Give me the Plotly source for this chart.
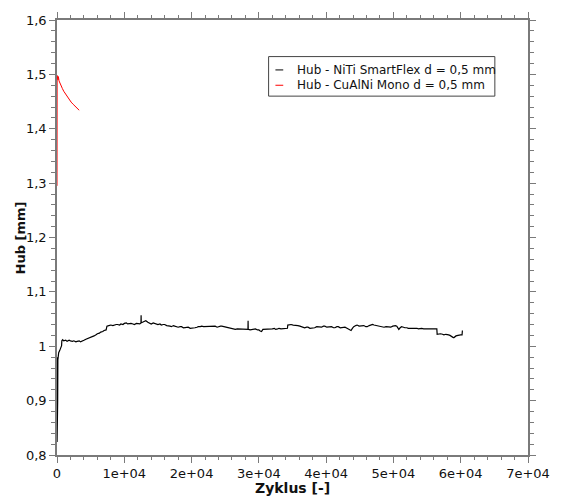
import plotly.graph_objects as go

# Hub (stroke) over cycle count, two wire materials
niti_cycles = [0, 10, 20, 30, 40, 60, 80, 100, 130, 160, 250, 400, 550, 680, 720, 850,
               1000, 1300, 1500, 1800, 2000, 2300, 2500, 2800, 3000, 3300, 3500, 3800,
               4000, 4300, 4500, 4800, 5000, 5300, 5500, 5800, 6000, 6300, 6500, 6800,
               7000, 7300, 7420, 7700, 8000, 8300, 8500, 8800, 9000, 9300, 9500, 9800,
               10000, 10300, 10500, 10800, 11000, 11300, 11500, 11800, 12000, 12300,
               12480, 12500, 12520, 12700, 13000, 13200, 13500, 13800, 14000, 14300,
               14500, 14800, 15000, 15300, 15500, 15800, 16000, 16300, 16500, 16800,
               17000, 17300, 17500, 17800, 18000, 18300, 18500, 18800, 19000, 19300,
               19500, 19800, 20000, 20300, 20500, 20800, 21000, 21300, 21500, 21800,
               22000, 22300, 22500, 22800, 23000, 23300, 23500, 23800, 24000, 24300,
               24500, 24800, 25000, 25300, 25500, 25800, 26000, 26300, 26500, 26800,
               27000, 27300, 27500, 27800, 28000, 28380, 28400, 28420, 28700, 29000,
               29300, 29500, 29800, 30000, 30200, 30400, 30600, 31000, 31300, 31500,
               31800, 32000, 32300, 32500, 32800, 33000, 33300, 33500, 33800, 34000,
               34250, 34300, 34600, 34800, 35100, 35300, 35600, 35800, 36100, 36300,
               36600, 36800, 37100, 37300, 37600, 37800, 38100, 38300, 38600, 38800,
               39100, 39300, 39600, 39800, 40100, 40300, 40600, 40800, 41100, 41300,
               41600, 41800, 42100, 42300, 42600, 42800, 43100, 43300, 43500, 43700,
               43900, 44100, 44400, 44600, 44900, 45100, 45400, 45600, 45900, 46100,
               46400, 46600, 46900, 47100, 47400, 47600, 47900, 48100, 48400, 48600,
               48900, 49100, 49400, 49600, 49900, 50100, 50300, 50500, 50700, 50800,
               51000, 51200, 51500, 51700, 52000, 52200, 52500, 52700, 53000, 53200,
               53500, 53700, 54000, 54200, 54500, 54700, 55000, 55200, 55500, 55700,
               56000, 56300, 56450, 56500, 56800, 57000, 57300, 57500, 57800, 58000,
               58200, 58400, 58600, 58700, 58900, 59000, 59200, 59300, 59600, 59800,
               60000, 60200, 60250]
niti_hub = [0.980, 0.824, 0.970, 0.870, 0.975, 0.880, 0.972, 0.900, 0.975, 0.985, 0.988,
            0.992, 0.996, 1.001, 1.010, 1.012,
            1.010, 1.011, 1.009, 1.011, 1.010, 1.009, 1.010, 1.008, 1.009, 1.010, 1.008, 1.009,
            1.011, 1.013, 1.014, 1.015, 1.016, 1.017, 1.019, 1.021, 1.023, 1.024, 1.026, 1.027,
            1.029, 1.030, 1.037, 1.038, 1.039, 1.038, 1.039, 1.040, 1.040, 1.039, 1.041, 1.040,
            1.042, 1.043, 1.041, 1.042, 1.042, 1.041, 1.040, 1.042, 1.042, 1.041,
            1.043, 1.057, 1.043, 1.044, 1.045, 1.047, 1.044, 1.043, 1.041, 1.043,
            1.042, 1.040, 1.040, 1.041, 1.039, 1.040, 1.040, 1.038, 1.038, 1.037,
            1.036, 1.038, 1.037, 1.035, 1.035, 1.036, 1.036, 1.034, 1.034, 1.035,
            1.035, 1.033, 1.033, 1.034, 1.034, 1.035, 1.036, 1.036, 1.037, 1.036,
            1.036, 1.037, 1.037, 1.036, 1.036, 1.037, 1.037, 1.035, 1.036, 1.037,
            1.037, 1.036, 1.035, 1.035, 1.034, 1.033, 1.032, 1.031, 1.031, 1.032,
            1.032, 1.031, 1.031, 1.032, 1.032, 1.031, 1.047, 1.031, 1.030, 1.031,
            1.032, 1.032, 1.030, 1.030, 1.028, 1.027, 1.031, 1.031, 1.032, 1.032,
            1.031, 1.032, 1.033, 1.031, 1.032, 1.033, 1.032, 1.032, 1.033, 1.033,
            1.033, 1.039, 1.040, 1.040, 1.039, 1.039, 1.038, 1.038, 1.037, 1.036,
            1.035, 1.034, 1.035, 1.035, 1.033, 1.033, 1.034, 1.034, 1.036, 1.036,
            1.035, 1.035, 1.037, 1.037, 1.035, 1.035, 1.036, 1.036, 1.034, 1.034,
            1.036, 1.036, 1.034, 1.034, 1.035, 1.035, 1.033, 1.032, 1.031, 1.029,
            1.033, 1.036, 1.038, 1.039, 1.037, 1.037, 1.038, 1.038, 1.036, 1.036,
            1.038, 1.039, 1.040, 1.039, 1.038, 1.038, 1.037, 1.037, 1.036, 1.035,
            1.036, 1.036, 1.035, 1.035, 1.037, 1.038, 1.038, 1.037, 1.033, 1.031,
            1.034, 1.036, 1.035, 1.034, 1.034, 1.033, 1.033, 1.033, 1.034, 1.034,
            1.033, 1.032, 1.033, 1.033, 1.032, 1.032, 1.033, 1.033, 1.032, 1.032,
            1.033, 1.033, 1.032, 1.022, 1.023, 1.023, 1.022, 1.021, 1.022, 1.022,
            1.021, 1.020, 1.018, 1.017, 1.016, 1.016, 1.018, 1.019, 1.020, 1.021,
            1.021, 1.021, 1.029]

cualni_cycles = [0, 0, 10, 20, 60, 150, 200, 300, 450, 600, 800, 1000, 1250, 1500,
                 1800, 2100, 2400, 2700, 3000, 3200, 3300]
cualni_hub = [1.295, 1.420, 1.360, 1.498, 1.495, 1.490, 1.496, 1.488, 1.483, 1.479,
              1.474, 1.469, 1.464, 1.460, 1.454, 1.449, 1.445, 1.441, 1.438, 1.436, 1.434]

series_names = ["Hub - NiTi SmartFlex d = 0,5 mm", "Hub - CuAlNi Mono d = 0,5 mm"]
series_colors = ["#000000", "#ff0000"]

x_tickvals = [0, 10000, 20000, 30000, 40000, 50000, 60000, 70000]
x_ticktext = ["0", "1e+04", "2e+04", "3e+04", "4e+04", "5e+04", "6e+04", "7e+04"]
y_tickvals = [0.8, 0.9, 1.0, 1.1, 1.2, 1.3, 1.4, 1.5, 1.6]
y_ticktext = ["0,8", "0,9", "1", "1,1", "1,2", "1,3", "1,4", "1,5", "1,6"]

FONT = "DejaVu Sans"
AXIS_GREY = "#7a7a7a"
TEXT = "#111111"

fig = go.Figure()
fig.add_trace(go.Scatter(x=niti_cycles, y=niti_hub, mode="lines",
                         line=dict(color=series_colors[0], width=1.2),
                         name=series_names[0], showlegend=False))
fig.add_trace(go.Scatter(x=cualni_cycles, y=cualni_hub, mode="lines",
                         line=dict(color=series_colors[1], width=1),
                         name=series_names[1], showlegend=False))

axis_common = dict(
    showgrid=False, zeroline=False, showline=True, linecolor=AXIS_GREY, linewidth=1.5,
    mirror="allticks", ticks="outside", ticklen=6, tickwidth=1, tickcolor=AXIS_GREY,
    tickfont=dict(family=FONT, size=13, color=TEXT),
)
fig.update_xaxes(range=[0, 70000], tickvals=x_tickvals, ticktext=x_ticktext,
                 minor=dict(dtick=2000, ticks="outside", ticklen=3, tickcolor=AXIS_GREY,
                            showgrid=False),
                 **axis_common)
fig.update_yaxes(range=[0.8, 1.6], tickvals=y_tickvals, ticktext=y_ticktext,
                 minor=dict(dtick=0.02, ticks="outside", ticklen=4, tickcolor=AXIS_GREY,
                            showgrid=False),
                 **axis_common)

W, H = 562, 497
ML, MR, MT, MB = 57, 22, 15, 42
pw, ph = W - ML - MR, H - MT - MB


def px_to_paper(px, py):
    return (px - ML) / pw, 1 - (py - MT) / ph


# Legend drawn as a framed box with short line samples
x0, y0 = px_to_paper(274, 52)
x1, y1 = px_to_paper(506, 92)
fig.add_shape(type="rect", xref="paper", yref="paper", x0=x0, x1=x1, y0=y0, y1=y1,
              line=dict(color="#444444", width=1), fillcolor="white")
for i, (name, color) in enumerate(zip(series_names, series_colors)):
    row_y = 65.5 + i * 15.5
    lx0, ly = px_to_paper(281, row_y)
    lx1, _ = px_to_paper(289, row_y)
    fig.add_shape(type="line", xref="paper", yref="paper", x0=lx0, x1=lx1, y0=ly, y1=ly,
                  line=dict(color=color, width=1))
    tx, _ = px_to_paper(301, row_y)
    fig.add_annotation(x=tx, y=ly, xref="paper", yref="paper", text=name,
                       showarrow=False, xanchor="left", yanchor="middle",
                       font=dict(family=FONT, size=12, color=TEXT))

# Axis titles
_, xt_y = px_to_paper(0, 488)
fig.add_annotation(x=0.5, y=xt_y, xref="paper", yref="paper", text="<b>Zyklus [-]</b>",
                   showarrow=False, xanchor="center", yanchor="middle",
                   font=dict(family=FONT, size=14, color=TEXT))
yt_x, _ = px_to_paper(20, 0)
fig.add_annotation(x=yt_x, y=0.5, xref="paper", yref="paper", text="<b>Hub [mm]</b>",
                   showarrow=False, textangle=-90, xanchor="center", yanchor="middle",
                   font=dict(family=FONT, size=13, color=TEXT))

fig.update_layout(
    width=W, height=H, margin=dict(l=ML, r=MR, t=MT, b=MB),
    paper_bgcolor="white", plot_bgcolor="white", showlegend=False,
)

fig.write_html("out.html")
